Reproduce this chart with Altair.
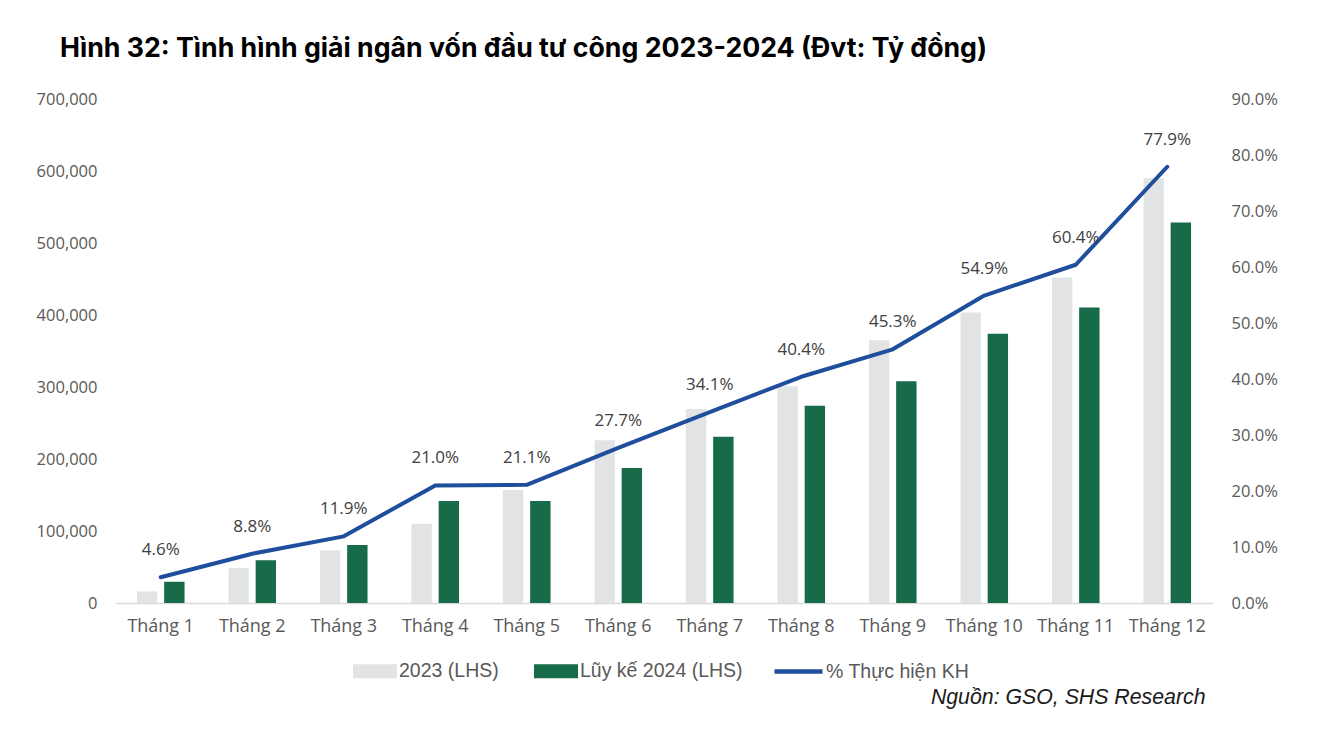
import altair as alt
import pandas as pd

months = [f"Tháng {i}" for i in range(1, 13)]
v2023 = [16000, 48500, 73000, 110000, 157000, 226000, 269500, 301000, 365000, 403500, 452000, 590000]
v2024 = [29500, 59500, 80500, 141500, 141500, 187500, 231000, 274000, 308000, 374000, 410500, 528500]
pct = [4.6, 8.8, 11.9, 21.0, 21.1, 27.7, 34.1, 40.4, 45.3, 54.9, 60.4, 77.9]

series = ["2023 (LHS)", "Lũy kế 2024 (LHS)"]
line_name = "% Thực hiện KH"
title_text = "Hình 32: Tình hình giải ngân vốn đầu tư công 2023-2024 (Đvt: Tỷ đồng)"
source_text = "Nguồn: GSO, SHS Research"

bars_df = pd.DataFrame(
    [{"month": m, "series": series[0], "value": a} for m, a in zip(months, v2023)]
    + [{"month": m, "series": series[1], "value": b} for m, b in zip(months, v2024)]
)
line_df = pd.DataFrame({"month": months, "pct": [p / 100 for p in pct], "line": line_name})
line_df["label"] = [f"{p:.1f}%" for p in pct]

W, H = 1098, 504
AX_FONT = "Open Sans"
LEG_FONT = "Liberation Sans"

x_enc = alt.X(
    "month:N",
    sort=months,
    scale=alt.Scale(paddingInner=0.48, paddingOuter=0.24),
    axis=alt.Axis(
        labelAngle=0,
        labelFont=AX_FONT,
        labelFontSize=18,
        labelColor="#595959",
        labelPadding=14,
        ticks=False,
        domainColor="#d9d9d9",
        domainWidth=1.5,
        grid=False,
        title=source_text,
        titleFont=LEG_FONT,
        titleFontStyle="italic",
        titleFontWeight="normal",
        titleFontSize=21.3,
        titleColor="#1a1a1a",
        titleAlign="right",
        titleBaseline="alphabetic",
        titleX=1090,
        titleY=100,
    ),
)

pct_axis = alt.Axis(
    orient="right",
    values=[i / 10 for i in range(0, 10)],
    format=".1%",
    labelFont=AX_FONT,
    labelFontSize=16.5,
    labelColor="#595959",
    labelPadding=18,
    ticks=False,
    domain=False,
    grid=False,
    title=None,
)
pct_scale = alt.Scale(domain=[0, 0.9], nice=False)

bars = alt.Chart(bars_df).mark_bar().encode(
    x=x_enc,
    xOffset=alt.XOffset("series:N", sort=series, scale=alt.Scale(paddingInner=0.25, paddingOuter=0)),
    y=alt.Y(
        "value:Q",
        scale=alt.Scale(domain=[0, 700000], nice=False),
        axis=alt.Axis(
            orient="left",
            values=list(range(0, 700001, 100000)),
            format=",.0f",
            labelFont=AX_FONT,
            labelFontSize=16.5,
            labelColor="#595959",
            labelPadding=18,
            ticks=False,
            domain=False,
            grid=False,
            title=None,
        ),
    ),
    color=alt.Color(
        "series:N",
        sort=series,
        scale=alt.Scale(domain=series, range=["#E2E3E5", "#176B48"]),
        legend=alt.Legend(
            title=None,
            orient="none",
            legendX=238,
            legendY=550,
            direction="horizontal",
            symbolType="M-1,-0.32L1,-0.32L1,0.32L-1,0.32Z",
            symbolSize=1936,
            symbolStrokeWidth=0,
            labelFont=LEG_FONT,
            labelFontSize=19.5,
            labelColor="#595959",
            labelOffset=2,
            labelLimit=400,
            columnPadding=35,
            padding=0,
        ),
    ),
)

line = alt.Chart(line_df).mark_line(strokeWidth=4, strokeCap="round", strokeJoin="round").encode(
    x=alt.X("month:N", sort=months),
    y=alt.Y("pct:Q", scale=pct_scale, axis=pct_axis),
    stroke=alt.Stroke(
        "line:N",
        scale=alt.Scale(domain=[line_name], range=["#1F4E9C"]),
        legend=alt.Legend(
            title=None,
            orient="none",
            legendX=657,
            legendY=546,
            symbolType="stroke",
            symbolSize=2304,
            symbolStrokeWidth=4.5,
            labelFont=LEG_FONT,
            labelFontSize=19.5,
            labelColor="#595959",
            labelOffset=1,
            labelLimit=400,
            padding=0,
        ),
    ),
)

labels = alt.Chart(line_df).mark_text(
    dy=-27, font=AX_FONT, fontSize=17, color="#404040", baseline="middle"
).encode(
    x=alt.X("month:N", sort=months),
    y=alt.Y("pct:Q", scale=pct_scale, axis=pct_axis),
    text="label:N",
)

chart = (
    alt.layer(bars, alt.layer(line, labels))
    .resolve_scale(y="independent")
    .properties(
        width=W,
        height=H,
        background="white",
        title=alt.TitleParams(
            title_text,
            anchor="start",
            frame="group",
            font="Inter",
            fontSize=26.7,
            fontWeight="bold",
            color="#000000",
            dx=-55,
            offset=7,
            baseline="alphabetic",
        ),
        autosize=alt.AutoSizeParams(type="none"),
        padding={"left": 107, "top": 91, "right": 107, "bottom": 129},
    )
    .configure_view(stroke="transparent", strokeWidth=0)
)

chart.save("out.html", embed_options={"renderer": "svg", "actions": False})
